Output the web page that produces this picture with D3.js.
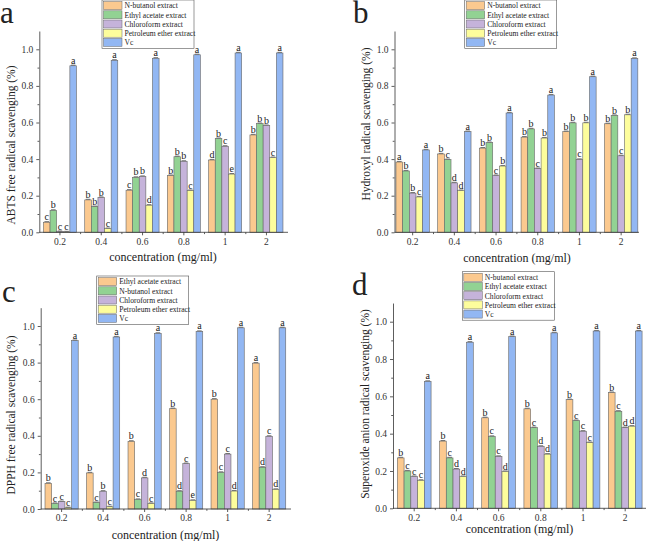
<!DOCTYPE html>
<meta charset="utf-8">
<style>
body { margin: 0; background: #fff; }
svg text { font-family: "Liberation Serif", "Times New Roman", serif; fill: #222; }
.axis path, .axis line { stroke: #333; stroke-width: 0.8; }
</style>
<svg width="648" height="541"></svg>
<script src="https://d3js.org/d3.v7.min.js"></script>
<script>

var concentrations = ["0.2", "0.4", "0.6", "0.8", "1", "2"];
var colors = ["#FBC98F", "#92D293", "#C5B3DA", "#FDFD9C", "#92B7F3"];

// a - ABTS
var abtsNames = ["N-butanol extract", "Ethyl acetate extract", "Chloroform extract", "Petroleum ether extract", "Vc"];
var abtsValues = [
  [0.055, 0.177, 0.23, 0.31, 0.395, 0.532],
  [0.12, 0.14, 0.30, 0.413, 0.512, 0.594],
  [0.004, 0.19, 0.305, 0.388, 0.47, 0.583],
  [0.002, 0.02, 0.148, 0.228, 0.318, 0.408],
  [0.91, 0.94, 0.951, 0.97, 0.98, 0.98]
];
var abtsLetters = [
  ["c", "b", "c", "b", "d", "b"],
  ["b", "b", "b", "b", "b", "b"],
  ["c", "b", "b", "b", "c", "b"],
  ["c", "c", "d", "c", "e", "c"],
  ["a", "a", "a", "a", "a", "a"]
];

// b - hydroxyl
var hydroxylNames = ["N-butanol extract", "Ethyl acetate extract", "Chloroform extract", "Petroleum ether extract", "Vc"];
var hydroxylValues = [
  [0.384, 0.428, 0.46, 0.52, 0.55, 0.593],
  [0.335, 0.397, 0.49, 0.565, 0.598, 0.638],
  [0.214, 0.27, 0.31, 0.348, 0.398, 0.418],
  [0.193, 0.228, 0.362, 0.515, 0.598, 0.642],
  [0.45, 0.55, 0.652, 0.75, 0.85, 0.95]
];
var hydroxylLetters = [
  ["a", "b", "b", "b", "b", "b"],
  ["b", "c", "b", "b", "b", "b"],
  ["b", "d", "c", "c", "c", "c"],
  ["c", "d", "b", "b", "b", "b"],
  ["a", "a", "a", "a", "a", "a"]
];

// c - DPPH
var dpphNames = ["Ethyl acetate extract", "N-butanol extract", "Chloroform extract", "Petroleum ether extract", "Vc"];
var dpphValues = [
  [0.14, 0.197, 0.37, 0.548, 0.6, 0.797],
  [0.03, 0.035, 0.052, 0.097, 0.2, 0.228],
  [0.04, 0.097, 0.17, 0.248, 0.3, 0.397],
  [0.007, 0.012, 0.03, 0.047, 0.098, 0.107],
  [0.92, 0.94, 0.96, 0.97, 0.99, 0.99]
];
var dpphLetters = [
  ["b", "b", "b", "b", "b", "a"],
  ["c", "c", "c", "d", "c", "d"],
  ["c", "b", "d", "c", "c", "c"],
  ["c", "c", "c", "e", "d", "d"],
  ["a", "a", "a", "a", "a", "a"]
];

// d - superoxide
var superNames = ["N-butanol extract", "Ethyl acetate extract", "Chloroform extract", "Petroleum ether extract", "Vc"];
var superValues = [
  [0.27, 0.36, 0.485, 0.533, 0.582, 0.62],
  [0.2, 0.27, 0.385, 0.432, 0.47, 0.52],
  [0.17, 0.21, 0.278, 0.332, 0.413, 0.432],
  [0.15, 0.17, 0.197, 0.29, 0.352, 0.44],
  [0.68, 0.89, 0.92, 0.94, 0.95, 0.95]
];
var superLetters = [
  ["b", "b", "b", "b", "b", "b"],
  ["c", "c", "c", "c", "c", "c"],
  ["c", "d", "c", "d", "c", "d"],
  ["c", "d", "d", "d", "c", "d"],
  ["a", "a", "a", "a", "a", "a"]
];

var svg = d3.select("svg");

// layout of each panel (pixels)
var panels = [
  {tag: "a", names: abtsNames, values: abtsValues, letters: abtsLetters,
   ylabel: "ABTS free radical scavenging (%)",
   axisX: 39.3, axisEnd: 288, y0: 232.3, unit: 183, band: [39.3, 287.1],
   tagPos: [0, 23], ylabPos: [15, 145], xlabPos: [163, 261], legend: [102, 0]},
  {tag: "b", names: hydroxylNames, values: hydroxylValues, letters: hydroxylLetters,
   ylabel: "Hydroxyl radical scavenging (%)",
   axisX: 394.5, axisEnd: 639, y0: 232.3, unit: 183, band: [391.8, 642],
   tagPos: [353, 23], ylabPos: [370, 124], xlabPos: [517, 262], legend: [464.7, 0]},
  {tag: "c", names: dpphNames, values: dpphValues, letters: dpphLetters,
   ylabel: "DPPH free radical scavenging (%)",
   axisX: 40.7, axisEnd: 291, y0: 509, unit: 183, band: [40.85, 289.9],
   tagPos: [2, 302], ylabPos: [15, 415], xlabPos: [165.5, 539], legend: [96.7, 276]},
  {tag: "d", names: superNames, values: superValues, letters: superLetters,
   ylabel: "Superoxide anion radical scavenging (%)",
   axisX: 393, axisEnd: 646, y0: 508.3, unit: 186.6, band: [393.1, 646.3],
   tagPos: [352, 295], ylabPos: [369, 404], xlabPos: [519.5, 533], legend: [462.3, 271.7]}
];

panels.forEach(drawPanel);

function drawPanel(p) {
  var g = svg.append("g");

  var y = d3.scaleLinear().domain([0, 1.1]).range([p.y0, p.y0 - 1.1 * p.unit]);
  var x = d3.scaleBand().domain(concentrations).range(p.band).paddingInner(0).paddingOuter(0);
  var groupW = x.bandwidth() * 0.8;
  var xs = d3.scaleBand().domain(d3.range(5)).range([0, groupW]);

  // bars
  p.values.forEach(function(serie, s) {
    var bars = g.append("g");
    bars.selectAll("rect")
      .data(serie)
      .enter()
      .append("rect")
      .attr("x", (d, i) => x(concentrations[i]) + x.bandwidth() * 0.1 + xs(s))
      .attr("y", d => y(d))
      .attr("width", xs.bandwidth())
      .attr("height", d => y(0) - y(d))
      .attr("fill", colors[s])
      .attr("stroke", "#666")
      .attr("stroke-width", 0.6);
    // error caps
    bars.selectAll("line")
      .data(serie)
      .enter()
      .append("line")
      .attr("x1", (d, i) => x(concentrations[i]) + x.bandwidth() * 0.1 + xs(s) + 1)
      .attr("x2", (d, i) => x(concentrations[i]) + x.bandwidth() * 0.1 + xs(s) + xs.bandwidth() - 1)
      .attr("y1", d => y(d) - 0.6)
      .attr("y2", d => y(d) - 0.6)
      .attr("stroke", "#555")
      .attr("stroke-width", 0.8);
    bars.selectAll("text")
      .data(serie)
      .enter()
      .append("text")
      .attr("x", (d, i) => x(concentrations[i]) + x.bandwidth() * 0.1 + xs(s) + xs.bandwidth() / 2)
      .attr("y", d => y(d) - 2)
      .attr("text-anchor", "middle")
      .attr("font-size", 10)
      .text((d, i) => p.letters[s][i]);
  });

  // y axis
  g.append("g").attr("class", "axis")
    .attr("transform", "translate(" + p.axisX + ",0)")
    .call(d3.axisLeft(y).tickValues(d3.range(0, 1.01, 0.2)).tickFormat(d3.format(".1f")).tickSize(3).tickSizeOuter(0))
    .call(a => a.selectAll("text").style("font-size", "9.5px").style("font-family", "Liberation Serif").style("fill", "#333"));
  g.append("g").attr("class", "axis")
    .attr("transform", "translate(" + p.axisX + ",0)")
    .call(d3.axisLeft(y).tickValues(d3.range(0.1, 1.1, 0.2)).tickFormat("").tickSize(1.8))
    .call(a => a.select(".domain").remove());

  // x axis
  var xa = g.append("g").attr("class", "axis")
    .attr("transform", "translate(0," + p.y0 + ")")
    .call(d3.axisBottom(x).tickSize(3).tickPadding(2.5))
    .call(a => a.select(".domain").remove())
    .call(a => a.selectAll("text").style("font-size", "9.5px").style("font-family", "Liberation Serif").style("fill", "#333"));
  xa.append("line").attr("x1", p.axisX).attr("x2", p.axisEnd).attr("y1", 0).attr("y2", 0);
  xa.selectAll(".minor")
    .data(concentrations.slice(1))
    .enter()
    .append("line")
    .attr("class", "minor")
    .attr("x1", d => x(d)).attr("x2", d => x(d))
    .attr("y1", 0).attr("y2", 1.8);

  // labels
  g.append("text")
    .attr("x", p.tagPos[0]).attr("y", p.tagPos[1])
    .attr("font-size", 31)
    .attr("fill", "#000")
    .text(p.tag);
  g.append("text")
    .attr("transform", "translate(" + p.ylabPos[0] + "," + p.ylabPos[1] + ") rotate(-90)")
    .attr("text-anchor", "middle")
    .attr("font-size", 11.5)
    .text(p.ylabel);
  g.append("text")
    .attr("x", p.xlabPos[0]).attr("y", p.xlabPos[1])
    .attr("text-anchor", "middle")
    .attr("font-size", 12)
    .text("concentration (mg/ml)");

  // legend
  var lg = g.append("g").attr("transform", "translate(" + p.legend[0] + "," + p.legend[1] + ")");
  lg.append("rect")
    .attr("width", 92).attr("height", 48.5)
    .attr("fill", "#fff").attr("stroke", "#555").attr("stroke-width", 0.6);
  var rows = lg.selectAll(".row")
    .data(p.names)
    .enter()
    .append("g")
    .attr("class", "row")
    .attr("transform", (d, i) => "translate(1.5," + (1.6 + i * 9.2) + ")");
  rows.append("rect")
    .attr("width", 18.5).attr("height", 8)
    .attr("fill", (d, i) => colors[i])
    .attr("stroke", "#666").attr("stroke-width", 0.5);
  rows.append("text")
    .attr("x", 21).attr("y", 6.8)
    .attr("font-size", 7.6)
    .text(d => d);
}

</script>
